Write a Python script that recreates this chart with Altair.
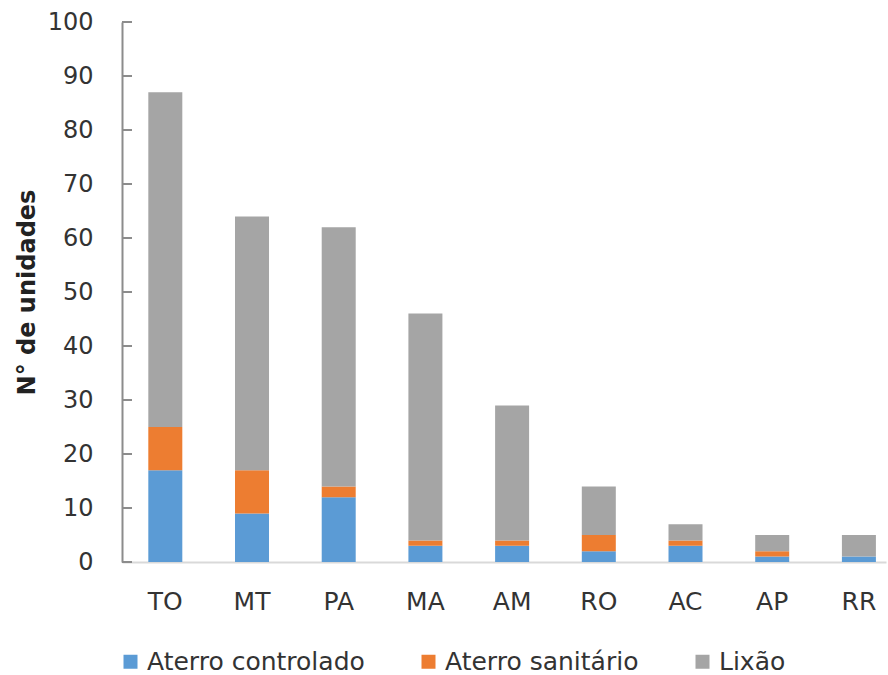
import altair as alt
import pandas as pd

estados = ["TO", "MT", "PA", "MA", "AM", "RO", "AC", "AP", "RR"]
aterro_controlado = [17, 9, 12, 3, 3, 2, 3, 1, 1]
aterro_sanitario = [8, 8, 2, 1, 1, 3, 1, 1, 0]
lixao = [62, 47, 48, 42, 25, 9, 3, 3, 4]
series = ["Aterro controlado", "Aterro sanitário", "Lixão"]
cores = ["#5B9BD5", "#ED7D31", "#A5A5A5"]
y_ticks = list(range(0, 101, 10))

rows = []
for i, uf in enumerate(estados):
    for k, (nome, vals) in enumerate(zip(series, [aterro_controlado, aterro_sanitario, lixao])):
        rows.append({"UF": uf, "Tipo": nome, "Valor": vals[i], "ordem": k})
df = pd.DataFrame(rows)
ticks_df = pd.DataFrame({"v": y_ticks})

FONT = "DejaVu Sans"
TXT = "#333333"

yscale = alt.Scale(domain=[0, 100], nice=False)

bars = alt.Chart(df).mark_bar(size=34).encode(
    x=alt.X("UF:N", sort=estados, title=None,
            scale=alt.Scale(paddingInner=0.6, paddingOuter=0.206, align=0.727),
            axis=alt.Axis(labelAngle=0, labelFontSize=25, labelColor=TXT,
                          labelFont=FONT, labelPadding=27, ticks=False,
                          domainColor="#D9D9D9", domainWidth=2)),
    y=alt.Y("Valor:Q", stack="zero", scale=yscale, title="N° de unidades",
            axis=alt.Axis(values=y_ticks, labelFontSize=24, labelColor=TXT,
                          labelFont=FONT, labelPadding=29, ticks=False, grid=False,
                          domainColor="#8C8C8C", domainWidth=2,
                          titleFont=FONT, titleFontSize=24, titleFontWeight="bold",
                          titleColor="#222222", titlePadding=8)),
    color=alt.Color("Tipo:N", sort=series,
                    scale=alt.Scale(domain=series, range=cores),
                    legend=alt.Legend(title=None, orient="none", direction="horizontal",
                                      legendX=-4, legendY=627,
                                      labelFont=FONT, labelFontSize=25, labelColor=TXT,
                                      labelLimit=0,
                                      symbolType="square", symbolSize=196, symbolStrokeWidth=0,
                                      columnPadding=51, labelOffset=4)),
    order=alt.Order("ordem:Q"),
)

tick_rules = alt.Chart(ticks_df).mark_rule(color="#8C8C8C", strokeWidth=2).encode(
    y=alt.Y("v:Q", scale=yscale),
    x=alt.value(0),
    x2=alt.value(10),
)

chart = alt.layer(bars, tick_rules).properties(
    width=764, height=540,
    autosize=alt.AutoSizeParams(type="none"),
    padding={"left": 122, "top": 22, "right": 2, "bottom": 113},
    background="white",
).configure_view(stroke=None)

chart.save("out.html", embed_options={"renderer": "svg", "actions": False})
